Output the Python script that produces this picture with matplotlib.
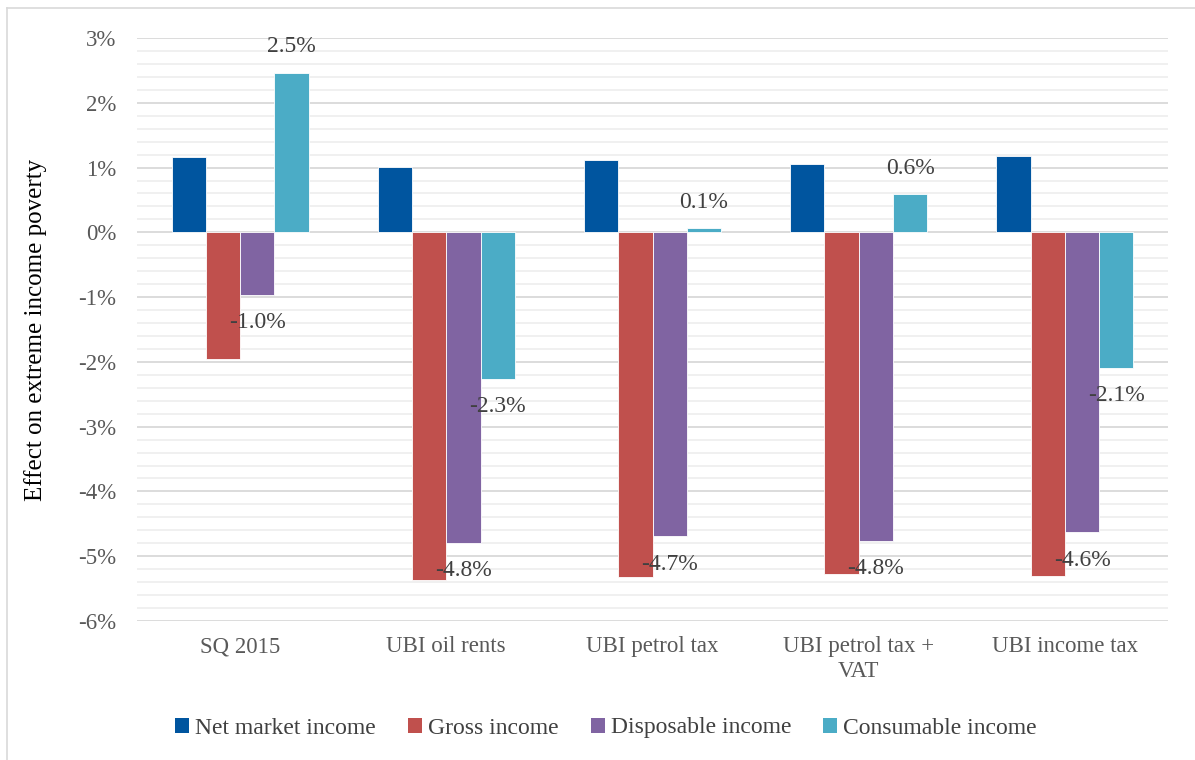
import matplotlib
matplotlib.use("Agg")
import matplotlib.pyplot as plt
import numpy as np
from matplotlib.ticker import FuncFormatter, MultipleLocator
from matplotlib.lines import Line2D
from matplotlib.patches import Patch

# Scenarios and effects on extreme income poverty (percentage points)
categories = ["SQ 2015", "UBI oil rents", "UBI petrol tax", "UBI petrol tax +\nVAT", "UBI income tax"]
series_names = ["Net market income", "Gross income", "Disposable income", "Consumable income"]
net_market = [1.16, 1.01, 1.12, 1.05, 1.18]
gross = [-1.96, -5.37, -5.32, -5.28, -5.30]
disposable = [-0.96, -4.79, -4.69, -4.76, -4.63]
consumable = [2.46, -2.26, 0.06, 0.59, -2.09]
colors = ["#00559F", "#C0504D", "#8064A2", "#4BACC6"]
labelled = [False, False, True, True]

plt.rcParams["font.family"] = ["Liberation Serif", "DejaVu Serif"]

W, H = 1195, 760
fig = plt.figure(figsize=(W / 100, H / 100), dpi=100)
ax = fig.add_axes([137 / W, 1 - 621 / H, (1168 - 137) / W, (621 - 38) / H])

series = [net_market, gross, disposable, consumable]
x = np.arange(len(categories))
bw = 0.166
for i, (vals, col, name) in enumerate(zip(series, colors, series_names)):
    pos = x + (i - 1.5) * bw
    bars = ax.bar(pos, vals, width=bw, color=col, edgecolor="white", linewidth=0.6,
                  label=name, zorder=3)
    if labelled[i]:
        for b, v in zip(bars, vals):
            off = 26 if v >= 0 else -28
            ax.annotate(f"{v:.1f}%", (b.get_x() + b.get_width() / 2, v),
                        xytext=(0, off), textcoords="offset pixels",
                        ha="center", va="center", fontsize=17, color="#404040",
                        zorder=4)

ax.set_xlim(-0.5, len(categories) - 0.5)
ax.set_ylim(-6, 3)
ax.yaxis.set_major_locator(MultipleLocator(1))
ax.yaxis.set_minor_locator(MultipleLocator(0.2))
ax.yaxis.set_major_formatter(FuncFormatter(lambda v, p: f"{v:.0f}%".replace("−", "-")))
ax.grid(axis="y", which="major", color="#D9D9D9", linewidth=1.3, zorder=0)
ax.grid(axis="y", which="minor", color="#EFEFEF", linewidth=1.3, zorder=0)
ax.set_axisbelow(True)
for s in ax.spines.values():
    s.set_visible(False)
ax.tick_params(axis="y", which="both", length=0, pad=15, labelsize=16.5, labelcolor="#595959")
ax.tick_params(axis="x", length=0, pad=11, labelsize=16.5, labelcolor="#595959")
ax.set_xticks(x)
ax.set_xticklabels(categories, linespacing=1.25)
ax.set_ylabel("Effect on extreme income poverty", fontsize=18, color="black")
ax.yaxis.set_label_coords((47 - 137) / (1168 - 137), 0.5)

handles = [Patch(facecolor=c, edgecolor="none") for c in colors]
fig.legend(handles, series_names, loc="center", bbox_to_anchor=(606 / W, 1 - 728 / H),
           ncol=4, frameon=False, fontsize=17, labelcolor="#404040",
           handlelength=0.6, handleheight=0.6, handletextpad=0.25, columnspacing=1.35)

# Chart frame
fig.add_artist(Line2D([7 / W, 1], [1 - 8 / H, 1 - 8 / H], color="#D9D9D9", linewidth=1.2,
                      transform=fig.transFigure))
fig.add_artist(Line2D([7 / W, 7 / W], [0, 1 - 8 / H], color="#D9D9D9", linewidth=1.2,
                      transform=fig.transFigure))

fig.savefig("out.png", dpi=100, facecolor="white")
